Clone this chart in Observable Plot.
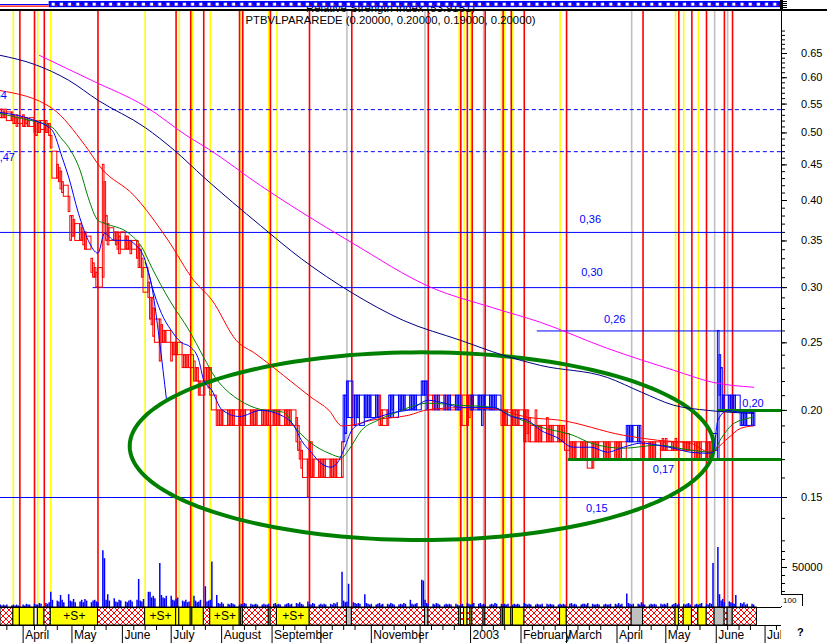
<!DOCTYPE html>
<html><head><meta charset="utf-8">
<script src="https://cdn.jsdelivr.net/npm/d3@7"></script>
<script src="https://cdn.jsdelivr.net/npm/@observablehq/plot@0.6"></script>
<style>
html,body{margin:0;padding:0;background:#fff;}
#chart{position:relative;width:827px;height:643px;overflow:hidden;background:#fff;font-family:Arial,"Liberation Sans",sans-serif;}
.ttl{position:absolute;left:0;width:781px;text-align:center;font-size:11.3px;line-height:11px;color:#000;white-space:nowrap;}
</style></head><body>
<svg width="0" height="0" style="position:absolute">
<defs>
<pattern id="hatch" width="6" height="6" patternUnits="userSpaceOnUse">
<rect width="6" height="6" fill="#fff"/>
<path d="M0,0L6,6M6,0L0,6" stroke="#ff0000" stroke-width="1"/>
</pattern>
<pattern id="rsipat" width="8.2" height="10" patternUnits="userSpaceOnUse">
<rect x="0" y="1" width="8.2" height="6.4" fill="#0000ff"/>
<rect x="2.4" y="2.7" width="3.2" height="3" fill="#fff"/>
<rect x="6" y="4.8" width="2" height="0.9" fill="#ff0000"/>
</pattern>
</defs></svg>
<div id="chart"></div>
<script>
// ---------------- DATA ----------------
const firstMonday = "2002-03-18";
// daily lows / highs in cents, one row per week (Mon..Fri)
const lowCents = [
[52.5,52.5,52.5,52.5,52],[52,51.5,51.5,51,51.5],[51,51,51.5,51,51],[50,49.5,50,50,50.5],
[50,50,49.5,47.5,43],[43,42.5,41.5,41,40.5],[38.5,35,35.5,35.5,35],[35,35,34.5,34,34],
[31.5,31,31,30,30],[31,37,35,34.5,35],[35,34.5,34,33.5,34],[34,34,34,33.5,34],
[33,32,32,31,29.5],[29,27,26.5,25.5,25],[23.5,25,25,25,25],[23.5,24,24,24,24],
[23,23,23,23,23],[22,22,22,21,21],[22,22,21.5,21,20],[19,19,19,19,19],
[19,19,19,19,19],[19,19,19,19,19],[19,19,19,19,19],[19,19,19,19,19],
[19,19,19,19,19],[19,19,19,19,19],[18,17.5,17,16.5,16],[15,16,16,16,16],
[16,16,16,16,16],[16,16,16,16,16],[16,18,18.5,19.5,19.5],[19,19,19.5,19.5,19],
[19.5,19.5,19.5,19.5,19.5],[19.5,19.5,19,19,19],[19,19.5,19.5,20,19.5],[20,20,20,20,20],
[20,20,20,20,20],[21,21,21,20,20],[20,20,20,20,20],[20,20,20,20,20],
[20,20,20,19,19],[19,19.5,20,20,20],[20,20,19,20,20],[20,20,20,20,20],
[19,19,19,19,19],[19,19,19,19,19],[18,18,18.5,18,18],[18,18,18,18,18],
[18,18,18,18,18],[18,18,18,18,17.5],[17,17,17,17,17],[17,17,17,17,16.5],
[16.5,17,17,17,17],[17,17,17,17,17],[17,17,17,17,17],[18,18,18,18,18],
[18,18,17,17,17],[17,17,17,17,17],[17.5,17.5,17.5,17.5,17.5],[17.5,17.5,17.5,17.5,17.5],
[17.5,17.5,17.5,17.5,17.5],[17,17,17,17,17],[17,17,17,17,17.5],[17,21,20,20,20],
[20,20,20,20,20],[19,19,19,19,19],[19,19]
];
const highCents = [
[54,54,53.5,54,53.5],[53.5,53,52.5,53,52.5],[53,52.5,52.5,52,52.5],[52,52,51.5,52,52],
[52,51.5,51.5,49.5,47],[45,44.5,44,42.5,42],[40.5,38,38,37.5,37],[37,36.5,36,36,35.5],
[33,32.5,32,31.5,32],[45,42.5,38,37,36.5],[36,36,36,35.5,36],[35.5,35.5,35,35,35],
[35,34.5,34,33,32],[30.5,29,29,28,27],[27,26.5,26,26,26],[25,25,25,25,25],
[24,24,24,24,24],[23.5,23,23,22,22],[23,23,23,23,21],[20,20,20,20,20],
[20,20,20,20,20],[20,20,20,20,20],[20,20,20,20,20],[20,20,20,20,20],
[20,20,20,20,20],[20,20,20,20,20],[19.5,19,18,17.5,17],[17,18,18,17,17],
[17,17,17,17,17],[17,17,17,17,17],[18,21,21,22,22],[21,21,21,21,21],
[21,21,21,21,21],[21,21,21,20,20],[20,21,21,21,21],[21,21,21,21,21],
[21,21,21,21,21],[22,22,22,22,21],[21,21,21,21,21],[21,21,21,21,21],
[21,21,21,21,21],[21,21,21,21,21],[21,21,21,21,21],[21,21,21,21,21],
[20,20,20,20,20],[20,20,20,20,20],[20,20,20,19.5,19],[20,19,19,19,19],
[19.5,19,19,19,19],[19,19,19,19,18.5],[18,18,18,18,18],[18,18,18,18,18],
[18,18,18,18,18],[18,18,18,18,18],[18,18,18,18,18],[19,19,19,19,19],
[19,19,18,18,18],[18,18,18,18,18],[18,18.2,18,18.2,18],[18,18,18.2,18,18],
[18,18,18,18,18],[18,18,18,18,18],[18,18,18,18,18.5],[26,24,23,21,21],
[21,21,21,21,21],[20,20,20,20,20],[20,20]
];
// r = down day (red), b = up day (blue)
const barColors = [
"rrrrr","rrrrr","rrrrr","rrrrr","rrrrr","rrrrr","rrrrr","rrrrr","rrrrr","rrrrr",
"rrrrr","rrrrr","rrrrr","rrrrr","rrrrr","rrrrr","rrrrr","rrrrr","rrrrr","rrrrr",
"rrrrr","rrrrr","rrrrr","rrrrr","rrrrr","rrrrr","rrrrr","rrrrr","rrrrr","rrrrr",
"rbbbb","rbbbb","bbbbb","bbrrr","rbbbb","bbbbb","bbbbb","bbbbr","rbrbr","brbbr",
"bbbrr","rrbbb","bbbbb","bbbbb","rrrrr","rrrrr","rrrrr","rrrrr","rrrrr","rrrrr",
"rrrrr","rrrrr","rrrrr","rrrrr","rrrrr","bbbbb","bbrrr","rrrrr","rrrrr","rrrrr",
"rrrrr","rrrrr","rrrrb","bbbbb","bbbbb","bbbbb","bb"
];
// daily volume in thousands
const volumeK = [
[3,2,3,2,3],[2,3,2,3,2],[3,2,4,3,3],[4,3,3,5,4],[5,4,6,19,9],[8,7,15,9,6],
[16,8,7,10,6],[7,9,6,10,8],[6,8,9,7,6],[71,61,9,16,8],[11,7,6,9,8],[7,6,8,9,7],
[9,35,8,7,10],[19,19,12,14,11],[55,15,12,11,14],[14,9,8,10,12],[8,7,9,6,7],[14,8,6,7,9],
[26,7,8,9,57],[15,5,4,6,4],[4,3,5,4,3],[3,4,3,5,4],[4,3,3,4,3],[3,4,3,3,4],
[4,5,3,4,3],[3,4,5,3,4],[5,4,6,4,3],[7,4,3,5,4],[3,4,3,4,3],[4,3,5,4,6],
[44,8,6,7,29],[6,5,4,5,4],[16,5,4,3,4],[3,4,5,3,4],[4,3,5,4,3],[3,4,3,5,4],
[9,4,3,4,5],[34,33,9,5,4],[4,3,5,4,3],[3,4,3,4,3],[4,3,2,3,4],[5,4,3,4,5],
[4,5,3,4,3],[3,4,3,5,4],[4,3,4,3,4],[3,4,3,4,3],[5,4,3,4,3],[3,4,3,3,4],
[4,3,4,3,3],[3,4,3,4,3],[4,5,3,4,3],[3,4,4,3,5],[4,3,3,4,3],[3,4,3,3,4],
[4,3,5,3,4],[17,5,4,3,4],[4,3,6,4,3],[3,4,3,4,3],[4,3,4,3,5],[3,4,5,3,4],
[4,3,4,5,3],[3,4,3,4,5],[4,3,5,4,55],[75,16,8,10,6],[7,6,5,4,15],[5,4,6,3,4],[4,3]
];

// moving averages [date, price]
const maMagenta = [["2002-04-11",0.646],["2002-05-13",0.595],["2002-06-15",0.546],["2002-07-12",0.493],["2002-07-24",0.474],["2002-08-25",0.420],["2002-09-19",0.385],["2002-10-20",0.348],["2002-12-08",0.300],["2003-01-14",0.281],["2003-02-13",0.2675],["2003-03-26",0.2455],["2003-05-06",0.2283],["2003-05-30",0.2194],["2003-06-24",0.2159]];
const maNavy = [["2002-03-18",0.646],["2002-04-08",0.627],["2002-04-29",0.595],["2002-05-17",0.557],["2002-06-15",0.509],["2002-07-03",0.472],["2002-07-21",0.432],["2002-08-25",0.368],["2002-09-19",0.330],["2002-10-20",0.295],["2002-11-21",0.269],["2002-12-26",0.252],["2003-01-21",0.240],["2003-02-13",0.232],["2003-03-26",0.223],["2003-04-16",0.2124],["2003-05-06",0.2034],["2003-05-27",0.200],["2003-06-24",0.198]];
const maRed = [["2002-03-18",0.575],["2002-04-19",0.542],["2002-05-09",0.480],["2002-05-19",0.445],["2002-06-08",0.407],["2002-06-29",0.351],["2002-07-15",0.307],["2002-07-26",0.288],["2002-08-10",0.252],["2002-08-22",0.241],["2002-09-08",0.2245],["2002-09-25",0.2088],["2002-10-06",0.200],["2002-10-14",0.190],["2002-10-20",0.1905],["2002-11-01",0.1936],["2002-11-24",0.1968],["2002-12-06",0.2005],["2002-12-26",0.2018],["2003-01-15",0.201],["2003-02-05",0.1955],["2003-02-25",0.1936],["2003-04-05",0.1842],["2003-04-26",0.1812],["2003-05-16",0.1795],["2003-05-28",0.1742],["2003-06-08",0.1823],["2003-06-16",0.1885],["2003-06-24",0.190]];
const maGreen = [["2002-03-18",0.533],["2002-03-31",0.5245],["2002-04-19",0.509],["2002-04-24",0.4926],["2002-04-29",0.4766],["2002-05-06",0.442],["2002-05-11",0.404],["2002-05-17",0.3746],["2002-05-21",0.371],["2002-06-05",0.3589],["2002-06-13",0.3427],["2002-06-19",0.3208],["2002-06-30",0.2877],["2002-07-12",0.2605],["2002-07-21",0.2383],["2002-07-28",0.2231],["2002-08-06",0.2117],["2002-08-12",0.2068],["2002-08-25",0.2006],["2002-09-08",0.1988],["2002-09-15",0.1892],["2002-09-25",0.1795],["2002-10-06",0.1736],["2002-10-14",0.1713],["2002-10-18",0.1754],["2002-10-26",0.1873],["2002-11-05",0.1936],["2002-11-15",0.1981],["2002-12-06",0.2048],["2002-12-26",0.2034],["2003-01-15",0.2020],["2003-01-26",0.1966],["2003-02-13",0.1892],["2003-03-05",0.1842],["2003-03-16",0.1795],["2003-04-05",0.1765],["2003-04-26",0.1783],["2003-05-16",0.1754],["2003-05-30",0.1742],["2003-06-04",0.1823],["2003-06-12",0.1917],["2003-06-24",0.1955]];
const maBlue = [["2002-03-18",0.535],["2002-04-08",0.521],["2002-04-17",0.509],["2002-04-19",0.504],["2002-04-25",0.461],["2002-04-29",0.432],["2002-05-05",0.3834],["2002-05-11",0.3507],["2002-05-17",0.3361],["2002-05-21",0.3589],["2002-05-27",0.3507],["2002-06-05",0.3507],["2002-06-08",0.3472],["2002-06-15",0.3283],["2002-06-19",0.3023],["2002-06-25",0.2756],["2002-07-01",0.2605],["2002-07-07",0.2505],["2002-07-13",0.2464],["2002-07-18",0.236],["2002-07-21",0.2209],["2002-07-26",0.2137],["2002-08-01",0.2006],["2002-08-12",0.196],["2002-08-25",0.200],["2002-09-08",0.196],["2002-09-15",0.1892],["2002-09-19",0.1812],["2002-09-25",0.1742],["2002-10-01",0.168],["2002-10-07",0.1658],["2002-10-11",0.168],["2002-10-15",0.1754],["2002-10-20",0.1873],["2002-10-26",0.1917],["2002-11-05",0.1955],["2002-11-15",0.1987],["2002-11-25",0.2006],["2002-12-06",0.2068],["2002-12-16",0.2048],["2002-12-26",0.2020],["2003-01-15",0.2020],["2003-01-26",0.196],["2003-02-05",0.1936],["2003-02-13",0.1873],["2003-02-23",0.1829],["2003-03-05",0.1771],["2003-03-16",0.1771],["2003-03-26",0.1742],["2003-04-05",0.1771],["2003-04-16",0.1795],["2003-04-26",0.1783],["2003-05-06",0.1765],["2003-05-16",0.1742],["2003-05-27",0.1736],["2003-05-30",0.1742],["2003-06-02",0.1936],["2003-06-08",0.200],["2003-06-16",0.1987],["2003-06-24",0.1987]];
const blueSteep = [["2002-06-15",0.326],["2002-06-19",0.302],["2002-06-23",0.2605],["2002-06-26",0.2283],["2002-06-28",0.2082]];

// horizontal levels
const levelPrices = [0.54, 0.47, 0.36, 0.30, 0.26, 0.15];
const levelStarts = ["2002-03-18","2002-03-18","2002-03-18","2002-05-14","2003-02-11","2002-03-18"];
const signalPrices = [0.20, 0.17];
const signalStarts = ["2003-06-02","2003-03-02"];
const labelTexts = ["0,36","0,30","0,26","0,20","0,17","0,15","0,54","0,47"];
const labelPrices = [0.36,0.30,0.26,0.20,0.17,0.15,0.54,0.47];
const labelDates = ["2003-03-09","2003-03-10","2003-03-24","2003-06-17","2003-04-23","2003-03-13","2002-03-22","2002-03-27"];

// ellipse annotation (centre date, centre price, half width in days, half height in log units)
const ellipseCenterDate = "2002-12-02", ellipseCenterPrice = 0.1777, ellipseHalfDays = 179.5, ellipseHalfLog = 0.310;

// signal lines: y = yellow, r = red, g = grey; band kind: y yellow, S yellow with +S+, h hatched, g grey, w blank
const eventDates = ["2002-03-26","2002-03-30","2002-04-08","2002-04-10","2002-04-14","2002-04-18","2002-05-17","2002-06-15","2002-07-04","2002-07-06","2002-07-13","2002-07-14","2002-07-21","2002-07-25","2002-08-12","2002-08-13","2002-08-14","2002-08-30","2002-08-31","2002-09-04","2002-09-24","2002-10-17","2002-10-20","2002-12-04","2002-12-06","2002-12-25","2002-12-26","2002-12-28","2002-12-30","2003-01-01","2003-01-02","2003-01-09","2003-01-10","2003-01-20","2003-01-21","2003-01-22","2003-01-26","2003-01-27","2003-02-03","2003-02-25","2003-03-01","2003-04-10","2003-04-17","2003-05-07","2003-05-09","2003-05-12","2003-05-17","2003-05-21","2003-05-26","2003-05-31","2003-06-06","2003-06-08","2003-06-11"];
const eventColors = ["y","r","r","y","r","y","r","y","r","y","r","y","r","y","r","y","r","y","r","y","r","g","r","g","r","y","r","y","r","y","r","g","r","y","r","y","r","y","r","y","r","g","r","y","r","y","r","y","r","g","r","g","r"];
const eventBands = ["y","y","w","y","h","S","h","S","y","y","y","y","h","S","y","y","h","y","h","S","h","g","h","g","h","y","h","y","h","y","h","g","h","y","y","y","y","y","h","y","h","g","h","y","h","y","h","y","h","g","h","g","h"];
const bandEnd = "2003-06-26";

const monthLabelDates = ["2002-04-01","2002-05-01","2002-06-01","2002-07-01","2002-08-01","2002-09-01","2002-11-01","2003-01-01","2003-02-01","2003-03-01","2003-04-01","2003-05-01","2003-06-01","2003-07-01"];
const monthLabelTexts = ["April","May","June","July","August","September","November","2003","February","March","April","May","June","July"];
const priceMajorTicks = [0.15,0.20,0.25,0.30,0.35,0.40,0.45,0.50,0.55,0.60,0.65];
const volumeTicks = [10000,20000,30000,40000,50000,60000,70000];

// ---------------- BUILD ----------------
const FONT = "Arial, 'Liberation Sans', sans-serif";
const DAY = 864e5;
const d = s => new Date(s + "T00:00:00Z");
const X0 = new Date(Date.UTC(2002, 2, 18, 2, 14));
const X1 = new Date(Date.UTC(2003, 6, 11, 2, 14));
const chart = document.getElementById("chart");
function mount(el, top) { el.style.position = "absolute"; el.style.left = "0px"; el.style.top = top + "px"; chart.appendChild(el); return el; }
function frame(o) {
  return Plot.plot(Object.assign({
    width: 827, marginLeft: 0, marginRight: 46,
    x: {type: "utc", domain: [X0, X1], axis: null},
    style: {background: "transparent", overflow: "visible", fontFamily: FONT}
  }, o));
}

const bars = [];
lowCents.forEach((week, i) => week.forEach((lo, j) => {
  bars.push({date: new Date(+d(firstMonday) + (7 * i + j) * DAY), lo: lo / 100, hi: highCents[i][j] / 100,
             up: barColors[i][j] === "b", vol: volumeK[i][j] * 1000});
}));
bars.forEach((b, k) => b.next = k + 1 < bars.length ? bars[k + 1].date : new Date(+b.date + DAY));

const ma = arr => arr.map(([s, p]) => ({date: d(s), p}));
const levels = levelPrices.map((p, i) => ({p, start: d(levelStarts[i]), dashed: i < 2}));
const signals = signalPrices.map((p, i) => ({p, start: d(signalStarts[i])}));
const ell = d3.range(0, 181).map(k => {
  const t = k / 180 * 2 * Math.PI;
  return {date: new Date(+d(ellipseCenterDate) + ellipseHalfDays * Math.cos(t) * DAY),
          p: ellipseCenterPrice * Math.exp(ellipseHalfLog * Math.sin(t))};
});
const evs = eventDates.map((s, i) => ({date: d(s), c: eventColors[i], band: eventBands[i]}));

// 1. signal lines layer
mount(frame({height: 597, marginTop: 0, marginBottom: 0, marks: [
  Plot.ruleX(evs.filter(e => e.c === "g"), {x: "date", stroke: "#c0c0c0", strokeWidth: 1.6}),
  Plot.ruleX(evs.filter(e => e.c === "y"), {x: "date", stroke: "#ffff00", strokeWidth: 1.6}),
  Plot.ruleX(evs.filter(e => e.c === "r"), {x: "date", stroke: "#ff0000", strokeWidth: 1.6}),
  Plot.ruleX([X1], {stroke: "#000", strokeWidth: 1})
]}), 10);

// 2. price layer
const labelOffsets = [-13, -15, -11, -7, 10, 11, -14, 6];
const labelMarks = labelTexts.map((t, i) => Plot.text([{date: d(labelDates[i]), p: labelPrices[i], t}],
  {x: "date", y: "p", text: "t", dy: labelOffsets[i], textAnchor: i < 6 ? "start" : "end", fill: "#0000ff", fontSize: 11}));
mount(frame({height: 607, marginTop: 53, marginBottom: 110,
  y: {type: "log", domain: [0.15, 0.65]},
  marks: [
    Plot.ruleY(levels.filter(l => l.dashed), {y: "p", x1: "start", x2: () => X1, stroke: "#0000ff", strokeDasharray: "4,3"}),
    Plot.ruleY(levels.filter(l => !l.dashed), {y: "p", x1: "start", x2: () => X1, stroke: "#0000ff"}),
    Plot.rect(bars.filter(b => !b.up), {x1: "date", x2: "next", y1: "lo", y2: "hi", stroke: "#ff0000", fill: "none", strokeWidth: 1}),
    Plot.rect(bars.filter(b => b.up), {x1: "date", x2: "next", y1: "lo", y2: "hi", stroke: "#0000ff", fill: "none", strokeWidth: 1}),
    Plot.ruleY(signals, {y: "p", x1: "start", x2: () => X1, stroke: "#008000", strokeWidth: 3}),
    Plot.line(ell, {x: "date", y: "p", stroke: "#008000", strokeWidth: 4}),
    Plot.line(ma(maMagenta), {x: "date", y: "p", stroke: "#ff00ff", strokeWidth: 1, curve: "monotone-x"}),
    Plot.line(ma(maNavy), {x: "date", y: "p", stroke: "#000080", strokeWidth: 1, curve: "monotone-x"}),
    Plot.line(ma(maRed), {x: "date", y: "p", stroke: "#ff0000", strokeWidth: 1, curve: "monotone-x"}),
    Plot.line(ma(maGreen), {x: "date", y: "p", stroke: "#008000", strokeWidth: 1, curve: "monotone-x"}),
    Plot.line(ma(maBlue), {x: "date", y: "p", stroke: "#0000ff", strokeWidth: 1, curve: "monotone-x"}),
    Plot.line(ma(blueSteep), {x: "date", y: "p", stroke: "#0000ff", strokeWidth: 1, curve: "monotone-x"}),
    ...labelMarks,
    Plot.axisY({anchor: "right", ticks: d3.range(13, 71).map(c => c / 100), tickSize: 3, tickFormat: () => "", label: null, stroke: "#000"}),
    Plot.axisY({anchor: "right", ticks: priceMajorTicks, tickSize: 5, tickFormat: () => "", label: null, stroke: "#000"}),
    Plot.text(priceMajorTicks, {y: v => v, text: v => v.toFixed(2), frameAnchor: "right", dx: 41, textAnchor: "end", fontSize: 11, fill: "#000"})
  ]}), 0);

// 3. volume layer
mount(frame({height: 80, marginTop: 0, marginBottom: 0, y: {domain: [0, 100000]}, marks: [
  Plot.ruleX(bars, {x: "date", y1: 0, y2: "vol", stroke: "#0000ff", strokeWidth: 1.5}),
  Plot.axisY({anchor: "right", ticks: volumeTicks, tickSize: 3, tickFormat: () => "", label: null, stroke: "#000"}),
  Plot.axisY({anchor: "right", ticks: [50000], tickSize: 5, tickFormat: () => "", label: null, stroke: "#000"}),
  Plot.text([50000], {y: v => v, text: () => "50000", frameAnchor: "right", dx: 41, textAnchor: "end", fontSize: 11, fill: "#000"})
]}), 527);

// 4. signal band
const segs = [{x1: X0, x2: evs[0].date, kind: "h"}];
evs.forEach((e, i) => segs.push({x1: e.date, x2: i + 1 < evs.length ? evs[i + 1].date : d(bandEnd), kind: e.band}));
const fills = {h: "url(#hatch)", y: "#ffff00", S: "#ffff00", g: "#c0c0c0", w: "#ffffff"};
mount(frame({height: 18, marginTop: 0, marginBottom: 0, y: {domain: [0, 1], axis: null}, marks: [
  ...Object.keys(fills).map(k => Plot.rect(segs.filter(s => s.kind === k), {x1: "x1", x2: "x2", fill: fills[k], stroke: "#000", strokeWidth: 1})),
  Plot.text(segs.filter(s => s.kind === "S"), {x: s => new Date((+s.x1 + +s.x2) / 2), y: () => 0.5, text: () => "+S+", fontSize: 12, fill: "#000"}),
  Plot.ruleY([0, 1], {stroke: "#000", strokeWidth: 1.2})
]}), 607);

// 5. time axis
const monthStarts = d3.utcMonth.range(new Date(Date.UTC(2002, 2, 1)), new Date(Date.UTC(2003, 7, 1)));
const weekTicks = monthStarts.flatMap(m => [7, 14, 21].map(k => d3.utcDay.offset(m, k)));
mount(Plot.plot({width: 781, height: 18, marginLeft: 0, marginRight: 0, marginTop: 0, marginBottom: 0,
  x: {type: "utc", domain: [X0, X1], axis: null}, y: {domain: [0, 18], range: [0, 18], axis: null},
  style: {background: "transparent", overflow: "hidden", fontFamily: FONT},
  marks: [
    Plot.ruleX(monthStarts, {stroke: "#000"}),
    Plot.ruleX(weekTicks, {y1: 0, y2: 5, stroke: "#000"}),
    Plot.text(monthLabelDates.map((s, i) => ({date: d(s), t: monthLabelTexts[i]})), {x: "date", y: () => 10, text: "t", textAnchor: "start", dx: 2, fontSize: 12, fill: "#000"})
  ]}), 625);

// 6. titles
const t1 = document.createElement("div"); t1.className = "ttl"; t1.style.top = "3px"; t1.textContent = "Relative Strength Index (53.9151)"; chart.appendChild(t1);
const t2 = document.createElement("div"); t2.className = "ttl"; t2.style.top = "15px"; t2.textContent = "PTBVLPARAREDE (0.20000, 0.20000, 0.19000, 0.20000)"; chart.appendChild(t2);

// 7. RSI strip
mount(frame({height: 10, marginTop: 0, marginBottom: 0, y: {domain: [10, 0]}, marks: [
  Plot.rect([{a: d("2002-04-17"), b: X1}], {x1: "a", x2: "b", y1: () => 1, y2: () => 7.4, fill: "url(#rsipat)"}),
  Plot.ruleY([{y: 4, a: X0, b: d("2002-04-17")}], {y: "y", x1: "a", x2: "b", stroke: "#0000ff", strokeWidth: 1.2}),
  Plot.ruleY([{y: 5.6, a: X0, b: d("2002-04-17")}], {y: "y", x1: "a", x2: "b", stroke: "#ff0000", strokeWidth: 1.2}),
  Plot.ruleX([X1], {stroke: "#000", strokeWidth: 3}),
  Plot.axisY({anchor: "right", ticks: [1, 3, 5, 7, 9], tickSize: 5, tickFormat: () => "", label: null, stroke: "#000"})
]}), 0);

// separators and small boxes
const sep = document.createElement("div");
sep.style.cssText = "position:absolute;left:0;top:9px;width:827px;height:1.5px;background:#000;";
chart.appendChild(sep);
const box = document.createElement("div");
box.style.cssText = "position:absolute;left:781px;top:594px;width:22px;height:12px;border-top:1px solid #000;border-right:1px solid #000;font-size:8px;line-height:12px;padding-left:2px;box-sizing:border-box;background:#fff;";
box.textContent = "100"; chart.appendChild(box);
const q = document.createElement("div");
q.style.cssText = "position:absolute;left:797px;top:626px;font-size:11px;font-weight:bold;";
q.textContent = "?"; chart.appendChild(q);
</script></body></html>
